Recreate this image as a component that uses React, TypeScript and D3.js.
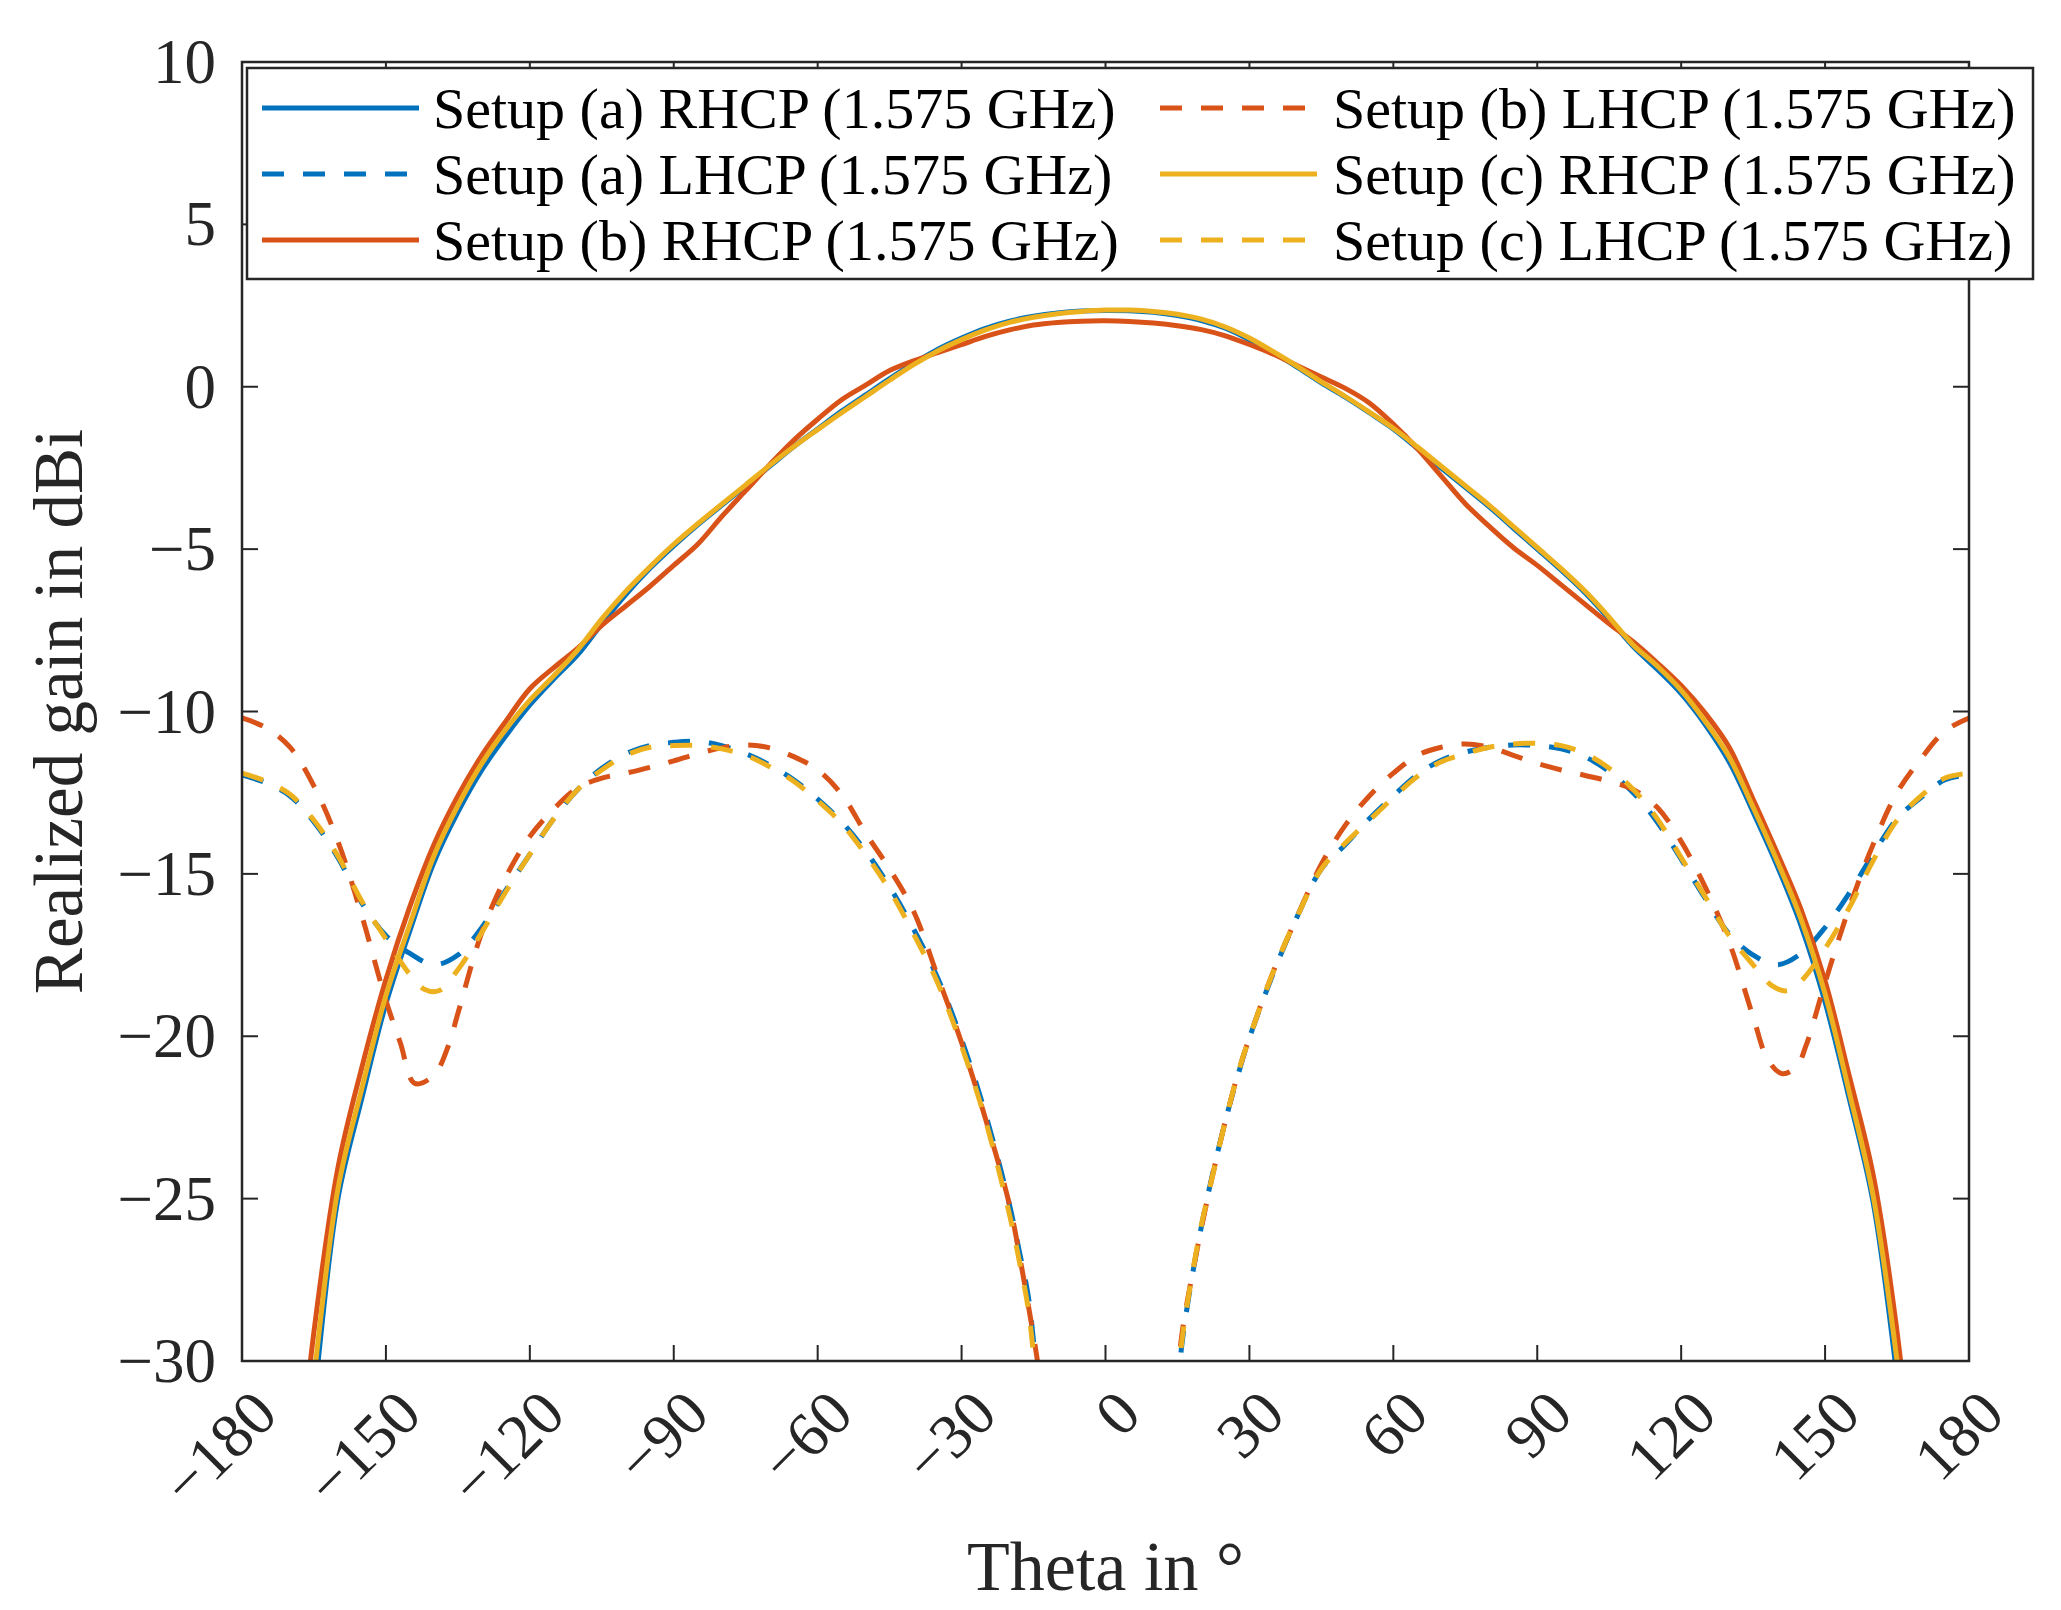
import React from 'react';
import * as d3 from 'd3';

type Pt = [number, number];

const xTicks = [-180, -150, -120, -90, -60, -30, 0, 30, 60, 90, 120, 150, 180];
const yTicks = [-30, -25, -20, -15, -10, -5, 0, 5, 10];

const seriesLabels = [
  'Setup (a) RHCP (1.575 GHz)',
  'Setup (a) LHCP (1.575 GHz)',
  'Setup (b) RHCP (1.575 GHz)',
  'Setup (b) LHCP (1.575 GHz)',
  'Setup (c) RHCP (1.575 GHz)',
  'Setup (c) LHCP (1.575 GHz)',
];

const aRHCP: Pt[] = [[-180,-52],[-175,-45],[-170,-38],[-165,-31.2],[-160,-25.0],[-155,-21.9],[-150,-19.0],[-145,-16.75],[-140,-14.65],[-135,-13.1],[-130,-11.8],[-125,-10.75],[-120,-9.8],[-115,-9.0],[-110,-8.25],[-105,-7.3],[-100,-6.4],[-95,-5.6],[-90,-4.9],[-85,-4.25],[-80,-3.65],[-75,-3.05],[-70,-2.45],[-65,-1.85],[-60,-1.3],[-55,-0.75],[-50,-0.25],[-45,0.25],[-40,0.72],[-35,1.15],[-30,1.5],[-25,1.8],[-20,2.02],[-15,2.17],[-10,2.27],[-5,2.33],[0,2.35],[5,2.34],[10,2.29],[15,2.19],[20,2.04],[25,1.8],[30,1.45],[35,1.05],[40,0.6],[45,0.12],[50,-0.32],[55,-0.8],[60,-1.3],[65,-1.9],[70,-2.5],[75,-3.1],[80,-3.7],[85,-4.35],[90,-5.0],[95,-5.65],[100,-6.35],[105,-7.15],[110,-8.0],[115,-8.7],[120,-9.45],[125,-10.4],[130,-11.55],[135,-13.1],[140,-14.75],[145,-16.6],[150,-18.95],[155,-21.9],[160,-25.1],[165,-30.5],[170,-37],[175,-44],[180,-52]];

const aLHCP: Pt[] = [[-180,-11.95],[-175,-12.2],[-170,-12.6],[-165,-13.4],[-160,-14.5],[-155,-15.9],[-150,-16.9],[-145,-17.45],[-140,-17.8],[-135,-17.5],[-130,-16.65],[-125,-15.5],[-120,-14.4],[-115,-13.3],[-110,-12.4],[-105,-11.75],[-100,-11.3],[-95,-11.05],[-90,-10.95],[-85,-10.92],[-80,-11.05],[-75,-11.3],[-70,-11.65],[-65,-12.1],[-60,-12.7],[-55,-13.4],[-50,-14.3],[-45,-15.4],[-40,-16.7],[-35,-18.2],[-30,-20.1],[-25,-22.4],[-20,-25.2],[-18,-26.6],[-16,-28.1],[-14,-31.0],[-12,-34],[-8,-40],[0,-48],[8,-40],[12,-35],[14,-32.3],[16,-29.4],[18,-27.45],[20,-25.85],[22,-24.45],[25,-22.6],[28,-21.0],[30,-20.05],[35,-18.05],[40,-16.3],[45,-14.85],[50,-14.1],[55,-13.3],[60,-12.6],[65,-11.95],[70,-11.5],[75,-11.25],[80,-11.1],[85,-11.03],[90,-11.05],[95,-11.15],[100,-11.4],[105,-11.85],[110,-12.5],[115,-13.4],[120,-14.55],[125,-15.75],[130,-16.85],[135,-17.5],[140,-17.8],[145,-17.45],[150,-16.65],[155,-15.6],[160,-14.4],[165,-13.3],[170,-12.65],[175,-12.1],[180,-11.95]];

const bRHCP: Pt[] = [[-180,-50],[-175,-43],[-170,-36],[-165,-29.1],[-160,-24.05],[-155,-20.95],[-150,-18.25],[-145,-16.0],[-140,-14.1],[-135,-12.6],[-130,-11.35],[-125,-10.3],[-120,-9.3],[-115,-8.65],[-110,-8.05],[-105,-7.35],[-100,-6.75],[-95,-6.15],[-90,-5.5],[-85,-4.85],[-80,-4.0],[-75,-3.2],[-70,-2.4],[-65,-1.65],[-60,-1.0],[-55,-0.4],[-50,0.05],[-45,0.5],[-40,0.8],[-35,1.05],[-30,1.3],[-25,1.55],[-20,1.75],[-15,1.9],[-10,1.98],[-5,2.02],[0,2.03],[5,2.01],[10,1.96],[15,1.88],[20,1.76],[25,1.57],[30,1.3],[35,1.0],[40,0.65],[45,0.3],[50,-0.05],[55,-0.5],[60,-1.15],[65,-1.9],[70,-2.75],[75,-3.6],[80,-4.3],[85,-4.95],[90,-5.5],[95,-6.1],[100,-6.7],[105,-7.3],[110,-7.85],[115,-8.5],[120,-9.2],[125,-10.05],[130,-11.1],[135,-12.7],[140,-14.35],[145,-16.1],[150,-18.3],[155,-21.2],[160,-24.25],[165,-29.1],[170,-36],[175,-43],[180,-50]];

const bLHCP: Pt[] = [[-180,-10.2],[-175,-10.5],[-170,-11.1],[-165,-12.3],[-160,-14.0],[-155,-16.3],[-150,-18.9],[-147,-20.2],[-144,-21.45],[-140,-21.2],[-137,-20.3],[-135,-19.3],[-130,-16.8],[-125,-15.1],[-120,-13.85],[-115,-13.0],[-110,-12.35],[-105,-12.05],[-100,-11.9],[-95,-11.72],[-90,-11.52],[-85,-11.3],[-80,-11.12],[-75,-11.03],[-70,-11.12],[-65,-11.39],[-60,-11.8],[-55,-12.55],[-50,-13.75],[-45,-14.85],[-40,-16.15],[-35,-18.15],[-30,-20.2],[-25,-22.55],[-20,-25.2],[-17.5,-27.1],[-15.5,-28.8],[-14,-30.2],[-12,-33],[-8,-39],[0,-47],[8,-39],[12,-34],[14,-32],[15,-30.5],[16,-29.1],[18,-27.4],[20,-25.9],[22,-24.5],[25,-22.6],[28,-20.95],[30,-20.05],[35,-18.0],[40,-16.3],[45,-14.7],[50,-13.5],[55,-12.6],[60,-11.9],[65,-11.35],[70,-11.1],[75,-11.0],[80,-11.1],[85,-11.35],[90,-11.6],[95,-11.8],[100,-11.97],[105,-12.15],[110,-12.4],[115,-12.95],[120,-14.0],[125,-15.4],[130,-17.1],[135,-19.4],[138,-20.7],[141,-21.15],[144,-20.95],[146,-20.3],[150,-18.35],[155,-16.05],[160,-14.1],[165,-12.5],[170,-11.45],[175,-10.6],[180,-10.2]];

const cRHCP: Pt[] = [[-180,-51],[-175,-44],[-170,-37.3],[-165,-30.5],[-160,-24.7],[-155,-21.6],[-150,-18.75],[-145,-16.55],[-140,-14.45],[-135,-12.9],[-130,-11.6],[-125,-10.55],[-120,-9.65],[-115,-8.9],[-110,-8.1],[-105,-7.15],[-100,-6.3],[-95,-5.55],[-90,-4.85],[-85,-4.22],[-80,-3.62],[-75,-3.02],[-70,-2.42],[-65,-1.85],[-60,-1.32],[-55,-0.8],[-50,-0.3],[-45,0.2],[-40,0.68],[-35,1.1],[-30,1.45],[-25,1.75],[-20,1.98],[-15,2.14],[-10,2.25],[-5,2.32],[0,2.36],[5,2.36],[10,2.32],[15,2.23],[20,2.08],[25,1.84],[30,1.5],[35,1.08],[40,0.63],[45,0.15],[50,-0.3],[55,-0.78],[60,-1.28],[65,-1.85],[70,-2.45],[75,-3.05],[80,-3.65],[85,-4.3],[90,-4.95],[95,-5.6],[100,-6.3],[105,-7.1],[110,-7.95],[115,-8.6],[120,-9.35],[125,-10.3],[130,-11.4],[135,-12.95],[140,-14.6],[145,-16.4],[150,-18.7],[155,-21.7],[160,-24.9],[165,-30.0],[170,-36.8],[175,-44],[180,-51]];

const cLHCP: Pt[] = [[-180,-11.9],[-175,-12.15],[-170,-12.55],[-165,-13.35],[-160,-14.45],[-155,-15.85],[-150,-17.0],[-145,-18.1],[-142,-18.55],[-139,-18.6],[-135,-17.95],[-130,-16.8],[-125,-15.55],[-120,-14.4],[-115,-13.3],[-110,-12.4],[-105,-11.8],[-100,-11.35],[-95,-11.1],[-90,-11.05],[-85,-11.05],[-80,-11.15],[-75,-11.35],[-70,-11.7],[-65,-12.15],[-60,-12.75],[-55,-13.45],[-50,-14.4],[-45,-15.5],[-40,-16.85],[-35,-18.35],[-30,-20.3],[-25,-22.6],[-20,-25.5],[-18,-26.9],[-16,-28.5],[-14,-31.5],[-12,-35],[-8,-41],[0,-48],[8,-41],[12,-35],[14,-32.2],[16,-29.3],[18,-27.4],[20,-25.8],[22,-24.5],[25,-22.6],[28,-20.95],[30,-20.05],[35,-18.0],[40,-16.3],[45,-14.85],[50,-14.05],[55,-13.35],[60,-12.65],[65,-12.0],[70,-11.55],[75,-11.3],[80,-11.1],[85,-11.0],[90,-10.98],[95,-11.05],[100,-11.3],[105,-11.75],[110,-12.4],[115,-13.3],[120,-14.5],[125,-15.7],[130,-16.9],[135,-17.8],[139,-18.45],[142,-18.6],[145,-18.3],[150,-17.3],[155,-16.05],[160,-14.6],[165,-13.35],[170,-12.6],[175,-12.05],[180,-11.9]];

const seriesData: Pt[][] = [aRHCP, aLHCP, bRHCP, bLHCP, cRHCP, cLHCP];
const seriesColors = ['#0072BD', '#0072BD', '#D95319', '#D95319', '#EDB120', '#EDB120'];
const seriesDashed = [false, true, false, true, false, true];

const fmt = (v: number) => String(v).replace('-', '\u2212');

export default function App() {
  const W = 2061, H = 1610;
  const L = 242, R = 1969, T = 62, B = 1361;
  const x = d3.scaleLinear().domain([-180, 180]).range([L, R]);
  const y = d3.scaleLinear().domain([-30, 10]).range([B, T]);
  const line = d3.line<Pt>().x(d => x(d[0])).y(d => y(d[1])).curve(d3.curveCatmullRom.alpha(0.5));
  const axisColor = '#262626';
  const font = '"Liberation Serif", "Times New Roman", serif';
  const tickLen = 16;
  const lw = 5;
  const dash = '22 19';

  const legendCols = [
    { lx0: 262, lx1: 419, tx: 433 },
    { lx0: 1160, lx1: 1317, tx: 1333 },
  ];
  const legendRows = [108, 174, 240];

  return (
    <svg width={W} height={H} style={{ position: 'absolute', left: 0, top: 0, background: '#fff' }}>
      <defs>
        <clipPath id="plotclip">
          <rect x={L} y={T} width={R - L} height={B - T} />
        </clipPath>
      </defs>
      <rect x={0} y={0} width={W} height={H} fill="#fff" />
      <g clipPath="url(#plotclip)">
        {seriesData.map((d, i) => (
          <path key={i} d={line(d) || ''} fill="none" stroke={seriesColors[i]} strokeWidth={lw}
            strokeDasharray={seriesDashed[i] ? dash : undefined} strokeLinejoin="round" />
        ))}
      </g>
      {xTicks.map(t => (
        <g key={'xt' + t}>
          <line x1={x(t)} x2={x(t)} y1={B} y2={B - tickLen} stroke={axisColor} strokeWidth={2} />
          <line x1={x(t)} x2={x(t)} y1={T} y2={T + tickLen} stroke={axisColor} strokeWidth={2} />
          <text transform={`translate(${x(t) + 38},${B + 56}) rotate(-45)`} textAnchor="end"
            fontFamily={font} fontSize={63} fill={axisColor}>{fmt(t)}</text>
        </g>
      ))}
      {yTicks.map(t => (
        <g key={'yt' + t}>
          <line x1={L} x2={L + tickLen} y1={y(t)} y2={y(t)} stroke={axisColor} strokeWidth={2} />
          <line x1={R} x2={R - tickLen} y1={y(t)} y2={y(t)} stroke={axisColor} strokeWidth={2} />
          <text x={216} y={y(t) + 21} textAnchor="end" fontFamily={font} fontSize={63} fill={axisColor}>{fmt(t)}</text>
        </g>
      ))}
      <rect x={L} y={T} width={R - L} height={B - T} fill="none" stroke={axisColor} strokeWidth={2.5} />
      <text x={(L + R) / 2} y={1590} textAnchor="middle" fontFamily={font} fontSize={70} fill={axisColor}>Theta in °</text>
      <text transform={`translate(82,${(T + B) / 2}) rotate(-90)`} textAnchor="middle" fontFamily={font} fontSize={69} fill={axisColor}>Realized gain in dBi</text>
      <rect x={247} y={68} width={2033 - 247} height={279 - 68} fill="#fff" stroke={axisColor} strokeWidth={2.5} />
      {seriesLabels.map((lab, i) => {
        const col = legendCols[Math.floor(i / 3)];
        const ry = legendRows[i % 3];
        return (
          <g key={'lg' + i}>
            <line x1={col.lx0} x2={col.lx1} y1={ry} y2={ry} stroke={seriesColors[i]} strokeWidth={lw}
              strokeDasharray={seriesDashed[i] ? dash : undefined} />
            <text x={col.tx} y={ry + 20} fontFamily={font} fontSize={58} fill="#000">{lab}</text>
          </g>
        );
      })}
    </svg>
  );
}
